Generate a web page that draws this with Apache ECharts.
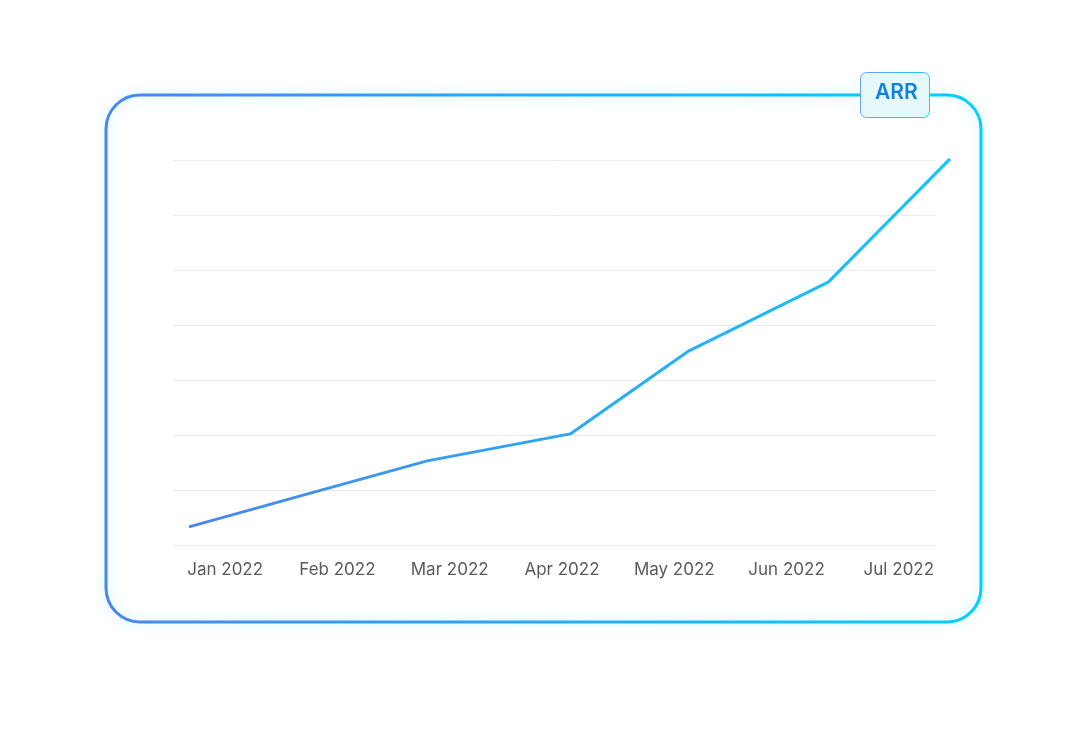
<!DOCTYPE html>
<html>
<head>
<meta charset="utf-8">
<script src="https://cdn.jsdelivr.net/npm/echarts@6/dist/echarts.min.js"></script>
<style>html,body{margin:0;padding:0;background:#fff}#c{width:1081px;height:729px}</style>
</head>
<body>
<div id="c"></div>
<script>
const months = ['Jan 2022','Feb 2022','Mar 2022','Apr 2022','May 2022','Jun 2022','Jul 2022'];
const arrX = [0, 0.156, 0.313, 0.501, 0.657, 0.840, 1];
const arrValues = [3.3, 9.3, 15.3, 20.2, 35.3, 47.8, 70.2];
const yTicks = [0, 10, 20, 30, 40, 50, 60, 70];
const badgeLabel = 'ARR';

const chart = echarts.init(document.getElementById('c'), null, {renderer: 'canvas'});
const lineData = arrX.map((x, i) => [x, arrValues[i]]);
const grad = (a, b) => new echarts.graphic.LinearGradient(0, 0, 1, 0, [{offset: 0, color: a}, {offset: 1, color: b}]);

chart.setOption({
  animation: false,
  backgroundColor: '#ffffff',
  grid: [
    {left: 173, right: 145, top: 160, bottom: 184},
    {left: 189, right: 131, top: 160, bottom: 184},
    {left: 169, right: 126, top: 160, bottom: 184}
  ],
  xAxis: [
    {gridIndex: 0, type: 'value', min: 0, max: 1, show: false},
    {gridIndex: 1, type: 'value', min: 0, max: 1, show: false},
    {gridIndex: 2, type: 'category', data: months, boundaryGap: true,
     axisLine: {show: false}, axisTick: {show: false}, splitLine: {show: false},
     axisLabel: {color: '#5a5a5a', fontFamily: 'Inter', fontSize: 17, margin: 16}}
  ],
  yAxis: [
    {gridIndex: 0, type: 'value', min: yTicks[0], max: yTicks[yTicks.length - 1], interval: 10,
     axisLine: {show: false}, axisTick: {show: false}, axisLabel: {show: false},
     splitLine: {lineStyle: {color: '#ebebeb', width: 1}}},
    {gridIndex: 1, type: 'value', min: yTicks[0], max: yTicks[yTicks.length - 1], show: false},
    {gridIndex: 2, type: 'value', min: 0, max: 1, show: false}
  ],
  series: [{
    type: 'line', xAxisIndex: 1, yAxisIndex: 1, data: lineData,
    showSymbol: false, symbol: 'none', clip: false,
    lineStyle: {width: 3, color: grad('#4a86ee', '#10c8fa')}
  }],
  graphic: [
    {type: 'rect', z: -1, shape: {x: 106, y: 95, width: 875, height: 527, r: 34},
     style: {fill: 'rgba(255,255,255,0)', stroke: grad('#4a86ee', '#00d0ff'), lineWidth: 3,
             shadowBlur: 12, shadowColor: 'rgba(0,200,255,0.3)'}},
    {type: 'rect', z: 10, shape: {x: 860.5, y: 72.5, width: 69, height: 45, r: 6},
     style: {fill: '#e5f8fa', stroke: grad('#6aa0f0', '#20ccf5'), lineWidth: 1}},
    {type: 'text', z: 11, left: 875, top: 82,
     style: {text: badgeLabel, fill: '#1480e2', font: '600 21px Inter'}}
  ]
});
</script>
</body>
</html>
